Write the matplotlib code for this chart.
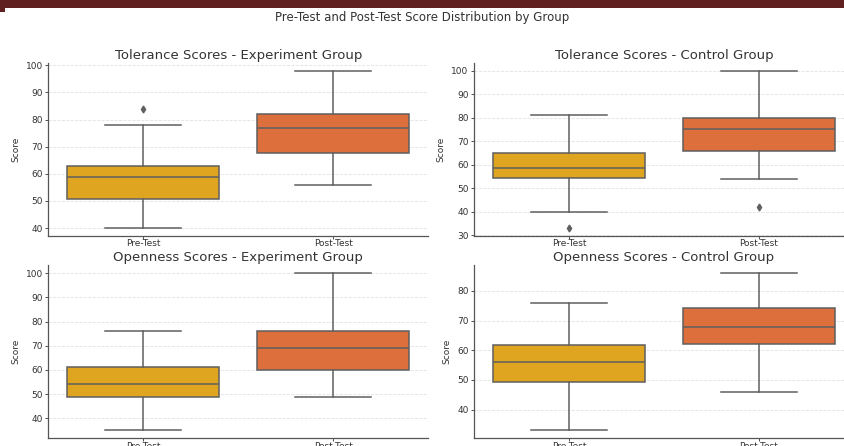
import matplotlib
matplotlib.use('Agg')
import matplotlib.pyplot as plt
from matplotlib.patches import Rectangle

plt.rcParams['font.family'] = 'DejaVu Sans'

# box statistics (whislo, q1, median, q3, whishi, outliers)
groups = ['Pre-Test', 'Post-Test']
titles = ['Tolerance Scores - Experiment Group', 'Tolerance Scores - Control Group',
          'Openness Scores - Experiment Group', 'Openness Scores - Control Group']

tol_exp_pre = [40, 50.8, 59, 63, 78, [84]]
tol_exp_post = [56, 67.8, 77, 82, 98, []]
tol_ctl_pre = [40, 54.2, 58.7, 65, 81, [33]]
tol_ctl_post = [54, 66, 75.3, 80, 100, [42]]
open_exp_pre = [35, 49, 54, 61, 76, []]
open_exp_post = [49, 60, 69, 76, 100, []]
open_ctl_pre = [33, 49.4, 56, 61.7, 76, []]
open_ctl_post = [46, 62.2, 68, 74.4, 86, []]

panels = [(tol_exp_pre, tol_exp_post), (tol_ctl_pre, tol_ctl_post),
          (open_exp_pre, open_exp_post), (open_ctl_pre, open_ctl_post)]

colors = ['#dfa420', '#dc6f3b']
edge = '#5f5f5f'

fig = plt.figure(figsize=(8.45, 4.46), dpi=100)

# dark band along the top of the screenshot
fig.patches.append(Rectangle((0, 0.982), 1, 0.018, transform=fig.transFigure,
                             facecolor='#60201f', edgecolor='none'))
fig.patches.append(Rectangle((0, 0.973), 0.006, 0.01, transform=fig.transFigure,
                             facecolor='#60201f', edgecolor='none'))

fig.text(0.5, 0.96, 'Pre-Test and Post-Test Score Distribution by Group',
         ha='center', va='center', fontsize=8.5, color='#333333')

positions = [(0.0572, 0.4709), (0.561, 0.4709), (0.0572, 0.0173), (0.561, 0.0173)]

for (x0, y0), title, (pre, post) in zip(positions, titles, panels):
    ax = fig.add_axes([x0, y0, 0.4497, 0.388])
    stats = []
    for name, s in zip(groups, (pre, post)):
        stats.append({'label': name, 'whislo': s[0], 'q1': s[1], 'med': s[2],
                      'q3': s[3], 'whishi': s[4], 'fliers': s[5]})
    bp = ax.bxp(stats, positions=[0, 1], widths=0.8, patch_artist=True,
                boxprops=dict(edgecolor=edge, linewidth=1.1),
                medianprops=dict(color=edge, linewidth=1.1),
                whiskerprops=dict(color=edge, linewidth=1.1),
                capprops=dict(color=edge, linewidth=1.1),
                flierprops=dict(marker='d', markersize=3.5, markerfacecolor=edge,
                                markeredgecolor=edge), capwidths=0.4)
    for patch, c in zip(bp['boxes'], colors):
        patch.set_facecolor(c)
    ax.set_xlim(-0.5, 1.5)
    ax.margins(y=0.05)
    ax.set_title(title, fontsize=9.5, color='#333333', pad=3)
    ax.set_ylabel('Score', fontsize=6.5, color='#333333')
    ax.tick_params(labelsize=6.5, colors='#333333', length=2, width=0.6, pad=2)
    ax.tick_params(axis='x', pad=0.5)
    ax.yaxis.grid(True, linestyle='--', color='#e2e2e2', linewidth=0.6)
    ax.set_axisbelow(True)
    for side in ['top', 'right']:
        ax.spines[side].set_visible(False)
    for side in ['left', 'bottom']:
        ax.spines[side].set_color('#555555')
        ax.spines[side].set_linewidth(0.9)

fig.savefig('out.png', dpi=100)
